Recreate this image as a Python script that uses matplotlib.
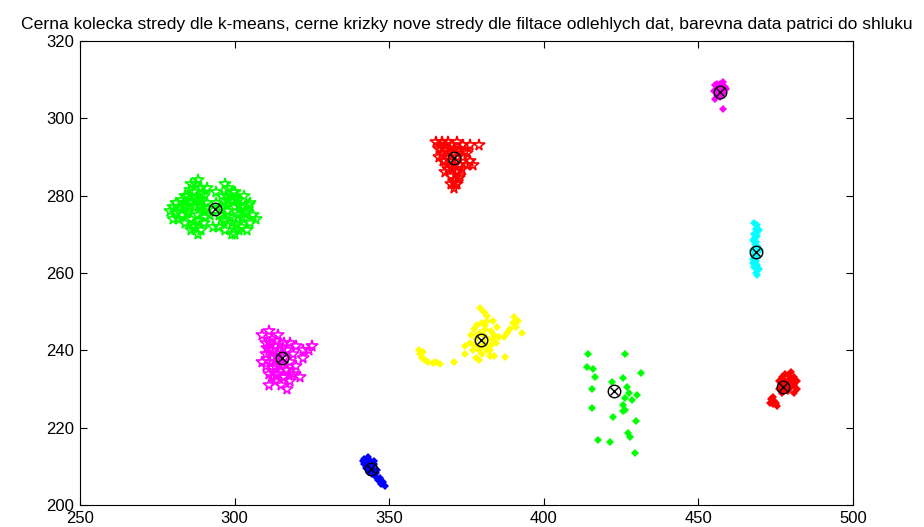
import matplotlib
matplotlib.use("Agg")
import matplotlib.pyplot as plt
import numpy as np

plt.rcParams['font.family'] = ['Liberation Sans', 'DejaVu Sans']

# green stars
g_star_x = [279, 280, 281, 282, 283, 283, 284, 284, 285, 285, 286, 286, 286, 287, 287, 287, 288, 288, 288,
            289, 289, 289, 290, 290, 290, 291, 292, 291, 288, 286, 284, 282, 280,
            294, 295, 295, 296, 296, 297, 297, 298, 298, 298, 299, 300, 300, 300, 301, 301, 302, 302,
            303, 303, 304, 304, 305, 305, 306, 307, 299, 297, 293, 294,
            281.5, 283.5, 285.5, 287.5, 289.5, 291.5, 284.5, 286.5, 288.5, 290.5, 287.5, 289.5, 285.5, 288.5,
            295.5, 297.5, 299.5, 301.5, 303.5, 296.5, 298.5, 300.5, 302.5, 299.5, 301.5, 297.5, 300.5, 304.5]
g_star_y = [276, 274, 278, 277, 275, 279, 273, 277, 280, 276, 283, 278, 274, 281, 277, 272, 284, 279, 275,
            282, 277, 271, 280, 276, 273, 278, 275, 282, 270, 271, 280, 274, 277,
            278, 275, 272, 280, 277, 274, 271, 282, 279, 276, 273, 281, 277, 270, 275, 279, 272, 277,
            274, 280, 276, 271, 273, 278, 275, 274, 270, 283, 272, 281,
            275.5, 277.5, 278.5, 279.5, 279, 276.5, 275.5, 272.5, 277.5, 274.5, 283, 280.5, 281.5, 273.5,
            276.5, 277.5, 278.5, 277.5, 275.5, 273.5, 274.5, 272.5, 274.5, 281, 271, 280, 279.5, 277.5]

# red stars
r_star_x = [365, 366, 366, 367, 367, 368, 368, 369, 369, 369, 370, 370, 370, 371, 371, 371, 371, 372, 372,
            372, 372, 373, 373, 373, 374, 374, 375, 375, 376, 370, 368, 376, 379, 377,
            366.5, 368.5, 370.5, 372.5, 374.5, 367.5, 369.5, 371.5, 373.5, 370.5, 372.5, 371.5]
r_star_y = [294, 292, 290, 294, 291, 293, 289, 294, 291, 287, 293, 289, 285, 292, 288, 284, 282, 294, 290,
            286, 283, 292, 288, 285, 293, 290, 291, 288, 289, 283, 286, 293, 293, 288,
            293, 291.5, 290.5, 291.5, 291.5, 289, 289, 286.5, 287, 287, 284.5, 283]

# magenta stars
m_star_x = [309, 310, 310, 310, 311, 311, 311, 312, 312, 312, 313, 313, 313, 314, 314, 314, 315, 315, 316,
            316, 316, 317, 317, 318, 318, 318, 319, 319, 320, 320, 321, 322, 322, 325, 324, 309, 311, 317,
            310.5, 311.5, 312.5, 313.5, 311.5, 312.5, 313.5, 314.5, 315.5, 316.5, 317.5, 313.5, 315.5]
m_star_y = [244, 242, 239, 236, 245, 240, 234, 243, 238, 233, 241, 236, 232, 244, 239, 234, 236, 231, 242,
            238, 233, 240, 235, 242, 237, 232, 239, 234, 241, 236, 233, 240, 238, 241, 240, 237, 231, 230,
            240.5, 242, 240, 242.5, 237, 235.5, 238.5, 236.5, 233, 235, 233.5, 233.5, 240.5]

# blue diamonds
b_x = [341.5, 342, 342, 342.5, 343, 343, 343.5, 344, 344, 344.5, 345, 345, 345.5, 346, 346.5, 347, 347.5,
       348, 348.5, 343, 345, 342.8, 344.3, 345.8, 343.7]
b_y = [211.5, 212, 210.5, 209.5, 211.8, 210, 208.5, 211, 209.5, 208, 210.5, 209, 207.5, 209, 206.5, 207,
       205.5, 206, 204.8, 212.5, 211.5, 210.8, 210.2, 208.2, 208.9]

# magenta diamonds
m_dia_x = [455, 455.5, 456, 456, 456.5, 457, 457, 457.5, 458, 458, 458.5, 459, 455.5, 458, 456.5, 457.5]
m_dia_y = [307, 308.5, 306, 309, 307.5, 308.8, 305.5, 307, 309.5, 306.5, 308, 307.5, 305, 302.3, 306, 308]

# cyan
c_x = [468, 469, 468.5, 469.5, 468, 469, 467.5, 468.5, 469, 467.5, 468, 469, 467.5, 468.5, 469, 468, 469.5,
       468.5, 469, 467.8, 468.8, 470, 468.3, 468.7, 468.2]
c_y = [273, 272.5, 271.5, 271, 270, 269.5, 268.5, 268, 267, 266, 265, 264.5, 263.5, 263, 262, 261.5, 261,
       260, 259.5, 262.5, 270.5, 266, 267.5, 264, 269]

# red diamonds
r_dia_x = [476, 477, 477, 478, 478, 478, 479, 479, 479, 480, 480, 480, 481, 481, 481, 482, 482, 476, 477,
           473, 473.5, 474, 474.5, 475, 475.5, 474, 478.5, 479.5, 480.5]
r_dia_y = [232, 233, 231, 234, 232, 230, 233.5, 231.5, 229.5, 234.5, 232.5, 230.5, 233, 231, 229, 232, 230,
           230, 229, 226.5, 227.5, 226, 227, 226.3, 225.5, 228, 231, 232.5, 231.5]

# yellow
y_x = [359.5, 360, 360.5, 361.5, 362.5, 364, 365, 366.5, 361,
       371, 374.5, 374.5, 387.5, 393, 384,
       379.5, 380.5, 381.5,
       376, 376.5, 377, 377.5, 378, 378, 378.5, 379, 379.5, 380, 380, 380.5, 381, 381.5, 381.5, 382, 382.5,
       383, 383, 384, 384.5, 385, 383.5, 379,
       387, 388, 389, 390, 390.5, 391.5, 391,
       377.5, 379, 380.5, 382, 383.5, 378.5, 381, 382.5, 380, 385.5]
y_y = [240, 239, 238, 237.5, 237, 236.8, 237, 236.5, 239.5,
       237, 241, 239, 238.3, 244.5, 238.5,
       251, 250, 249,
       242, 244, 240, 245.5, 238, 243, 246.5, 241, 244.5, 239, 247, 242.5, 245.5, 240, 247.5, 243, 238.5,
       245, 241.5, 244, 242, 246, 247.5, 237.5,
       243.5, 244.5, 245.5, 247, 248.5, 247.5, 246,
       241.5, 240, 244, 241, 243, 244, 246.5, 240, 241, 243.5]

# green diamonds
g_dia_x = [414.3, 426.3, 414, 415.9, 416.6, 431.4, 415.6, 422, 425.6, 426.9, 426.3, 428.5, 430.1, 426.3,
           425.6, 415.6, 422.4, 429.8, 427.2, 427.9, 417.5, 421.4, 429.5, 427.6, 425.6]
g_dia_y = [239.1, 239.1, 235.7, 235.2, 233.1, 234.1, 230, 231.8, 232.9, 230.5, 227.7, 227.2, 228.5, 224.6,
           225.9, 225.1, 222.8, 221.6, 218.6, 217.6, 216.8, 216.3, 213.5, 229, 224.3]

# cluster centres
cent_x = [293.7, 371, 315.3, 344.1, 457, 468.6, 477.4, 379.7, 422.7]
cent_y = [276.6, 289.7, 238, 209.3, 306.8, 265.4, 230.5, 242.6, 229.4]

fig = plt.figure(figsize=(9.24, 5.27), dpi=100)
ax = fig.add_axes([0.0866, 0.0417, 0.8366, 0.8805])

star = dict(linestyle='none', marker='*', markersize=8.5, markerfacecolor='none', markeredgewidth=1.2)
dia = dict(linestyle='none', marker='D', markersize=4, markeredgewidth=0)

ax.plot(g_star_x, g_star_y, color='#00ff00', **star)
ax.plot(r_star_x, r_star_y, color='#ff0000', **star)
ax.plot(m_star_x, m_star_y, color='#ff00ff', **star)
ax.plot(b_x, b_y, color='#0000ff', **dia)
ax.plot(m_dia_x, m_dia_y, color='#ff00ff', **dia)
ax.plot(c_x, c_y, color='#00ffff', **dia)
ax.plot(r_dia_x, r_dia_y, color='#ff0000', **dia)
ax.plot(y_x, y_y, color='#ffff00', **dia)
ax.plot(g_dia_x, g_dia_y, color='#00ff00', **dia)

ax.plot(cent_x, cent_y, linestyle='none', marker='o', markersize=9, markerfacecolor='none',
        markeredgecolor='black', markeredgewidth=1)
ax.plot(cent_x, cent_y, linestyle='none', marker='x', markersize=6, color='black', markeredgewidth=1)

ax.set_xlim(250, 500)
ax.set_ylim(200, 320)
ax.set_xticks(np.arange(250, 501, 50))
ax.set_yticks(np.arange(200, 321, 20))
ax.tick_params(direction='in', top=True, right=True, labelsize=12, length=5, width=0.8, pad=4)
for s in ax.spines.values():
    s.set_linewidth(0.8)

ax.set_title('Cerna kolecka stredy dle k-means, cerne krizky nove stredy dle filtace odlehlych dat, '
             'barevna data patrici do shluku', fontsize=12.6, pad=9)

fig.savefig('out.png', dpi=100)
